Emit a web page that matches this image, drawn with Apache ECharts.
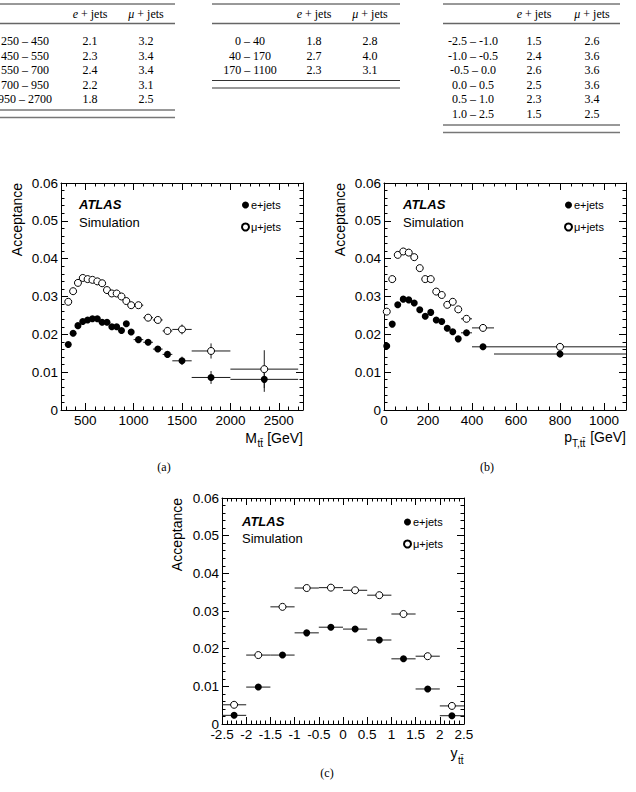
<!DOCTYPE html>
<html>
<head>
<meta charset="utf-8">
<script src="https://cdn.jsdelivr.net/npm/echarts@6/dist/echarts.min.js"></script>
<style>html,body{margin:0;padding:0;background:#fff}#chart{width:636px;height:792px}</style>
</head>
<body>
<div id="chart"></div>
<script>
// ===================== DATA =====================
// (a) acceptance vs M_tt
const mttCenters = [325,375,425,475,525,575,625,675,725,775,825,875,925,975,1050,1150,1250,1350,1500,1800,2350];
const mttLow     = [300,350,400,450,500,550,600,650,700,750,800,850,900,950,1000,1100,1200,1300,1400,1600,2000];
const mttHigh    = [350,400,450,500,550,600,650,700,750,800,850,900,950,1000,1100,1200,1300,1400,1600,2000,2700];
const mttEjets   = [0.0173,0.0203,0.0223,0.0234,0.0238,0.0241,0.0241,0.0232,0.0232,0.0220,0.0220,0.0210,0.0228,0.0206,0.0186,0.0179,0.0161,0.0147,0.0130,0.0086,0.0081];
const mttEjetsErr= [0.0004,0.0004,0.0004,0.0004,0.0004,0.0004,0.0004,0.0004,0.0004,0.0005,0.0005,0.0005,0.0005,0.0005,0.0005,0.0006,0.0007,0.0009,0.0011,0.0017,0.0033];
const mttMujets  = [0.0286,0.0314,0.0336,0.0349,0.0346,0.0344,0.0340,0.0335,0.0317,0.0308,0.0308,0.0300,0.0288,0.0277,0.0277,0.0244,0.0238,0.0209,0.0213,0.0156,0.0108];
const mttMujetsErr=[0.0005,0.0005,0.0005,0.0005,0.0005,0.0005,0.0005,0.0005,0.0005,0.0005,0.0005,0.0006,0.0006,0.0006,0.0006,0.0007,0.0008,0.0010,0.0013,0.0020,0.0050];

// (b) acceptance vs pT,tt
const ptCenters = [12.5,37.5,62.5,87.5,112.5,137.5,162.5,187.5,212.5,237.5,262.5,287.5,312.5,337.5,375,450,800];
const ptLow     = [0,25,50,75,100,125,150,175,200,225,250,275,300,325,350,400,500];
const ptHigh    = [25,50,75,100,125,150,175,200,225,250,275,300,325,350,400,500,1100];
const ptEjets   = [0.0169,0.0227,0.0278,0.0293,0.0291,0.0283,0.0265,0.0248,0.0258,0.0238,0.0234,0.0216,0.0207,0.0188,0.0204,0.0167,0.0148];
const ptEjetsErr= [0.0004,0.0004,0.0004,0.0004,0.0004,0.0004,0.0004,0.0004,0.0005,0.0005,0.0005,0.0005,0.0006,0.0008,0.0008,0.0008,0.0009];
const ptMujets  = [0.0260,0.0346,0.0410,0.0419,0.0416,0.0404,0.0375,0.0346,0.0346,0.0313,0.0304,0.0278,0.0286,0.0266,0.0241,0.0217,0.0167];
const ptMujetsErr=[0.0005,0.0005,0.0005,0.0005,0.0005,0.0005,0.0005,0.0005,0.0005,0.0006,0.0006,0.0006,0.0006,0.0008,0.0008,0.0008,0.0009];

// (c) acceptance vs y_tt
const yCenters = [-2.25,-1.75,-1.25,-0.75,-0.25,0.25,0.75,1.25,1.75,2.25];
const yLow     = [-2.5,-2.0,-1.5,-1.0,-0.5,0.0,0.5,1.0,1.5,2.0];
const yHigh    = [-2.0,-1.5,-1.0,-0.5,0.0,0.5,1.0,1.5,2.0,2.5];
const yEjets   = [0.0023,0.0098,0.0183,0.0242,0.0257,0.0252,0.0223,0.0173,0.0093,0.0022];
const yEjetsErr= [0.0003,0.0004,0.0004,0.0004,0.0004,0.0004,0.0004,0.0004,0.0004,0.0003];
const yMujets  = [0.0051,0.0183,0.0311,0.0361,0.0362,0.0355,0.0342,0.0292,0.0180,0.0048];
const yMujetsErr=[0.0003,0.0004,0.0004,0.0004,0.0004,0.0004,0.0004,0.0004,0.0004,0.0003];

// tick labels
const accTicks = [0,0.01,0.02,0.03,0.04,0.05,0.06];
const mttTicks = [500,1000,1500,2000,2500];
const ptTicks  = [0,200,400,600,800,1000];
const yTicks   = [-2.5,-2,-1.5,-1,-0.5,0,0.5,1,1.5,2,2.5];

// tables (acceptance in %)
const tab1Bins = ['250 – 450','450 – 550','550 – 700','700 – 950','950 – 2700'];
const tab1E    = ['2.1','2.3','2.4','2.2','1.8'];
const tab1Mu   = ['3.2','3.4','3.4','3.1','2.5'];
const tab2Bins = ['0 – 40','40 – 170','170 – 1100'];
const tab2E    = ['1.8','2.7','2.3'];
const tab2Mu   = ['2.8','4.0','3.1'];
const tab3Bins = ['-2.5 – -1.0','-1.0 – -0.5','-0.5 – 0.0','0.0 – 0.5','0.5 – 1.0','1.0 – 2.5'];
const tab3E    = ['1.5','2.4','2.6','2.5','2.3','1.5'];
const tab3Mu   = ['2.6','3.6','3.6','3.6','3.4','2.5'];

const E_NAME = 'e+jets', MU_NAME = 'μ+jets';

// ===================== STYLE / LAYOUT =====================
const SANS = '"Liberation Sans", Arial, Helvetica, sans-serif';
const SERIF = '"Liberation Serif", "Times New Roman", serif';
const TICK_FONT = 13.5;

function steps(a, b, s, dec) {
  const out = [];
  const n = Math.round((b - a) / s);
  for (let i = 0; i <= n; i++) out.push(+(a + i * s).toFixed(dec || 6));
  return out;
}

const panels = [
  { grid: {left: 61, top: 183, width: 242, height: 227}, xMin: 250, xMax: 2750,
    xMajor: mttTicks, xMinor: steps(300, 2700, 100), xFmt: v => String(v),
    c: mttCenters, lo: mttLow, hi: mttHigh, e: mttEjets, eErr: mttEjetsErr, mu: mttMujets, muErr: mttMujetsErr },
  { grid: {left: 384, top: 183, width: 242, height: 227}, xMin: 0, xMax: 1100,
    xMajor: ptTicks, xMinor: steps(0, 1100, 50), xFmt: v => String(v),
    c: ptCenters, lo: ptLow, hi: ptHigh, e: ptEjets, eErr: ptEjetsErr, mu: ptMujets, muErr: ptMujetsErr },
  { grid: {left: 222, top: 498, width: 242, height: 226}, xMin: -2.5, xMax: 2.5,
    xMajor: yTicks, xMinor: steps(-2.5, 2.5, 0.1, 3), xFmt: v => String(v),
    c: yCenters, lo: yLow, hi: yHigh, e: yEjets, eErr: yEjetsErr, mu: yMujets, muErr: yMujetsErr }
];
const accMinor = steps(0, 0.06, 0.002, 4);

const grids = [], xAxes = [], yAxes = [], series = [], legends = [];

function mkAxis(gridIndex, position, min, max, values, len, labels, fmt, line) {
  return {
    gridIndex, type: 'value', position, min, max,
    axisLine: {show: line, onZero: false, lineStyle: {color: '#000', width: 1}},
    axisTick: {show: true, inside: true, length: len, customValues: values, lineStyle: {color: '#000', width: 1}},
    axisLabel: labels ? {show: true, customValues: values, formatter: fmt, color: '#000',
      fontFamily: SANS, fontSize: TICK_FONT, margin: 3} : {show: false},
    splitLine: {show: false}, minorTick: {show: false}
  };
}

function errRender(params, api) {
  const x = api.value(0), y = api.value(1);
  const a = api.coord([api.value(2), y]), b = api.coord([api.value(3), y]);
  const c = api.coord([x, api.value(4)]), d = api.coord([x, api.value(5)]);
  const st = {stroke: '#1a1a1a', lineWidth: 1};
  return {type: 'group', children: [
    {type: 'line', shape: {x1: a[0], y1: a[1], x2: b[0], y2: b[1]}, style: st},
    {type: 'line', shape: {x1: c[0], y1: c[1], x2: d[0], y2: d[1]}, style: st}
  ]};
}

panels.forEach((p, i) => {
  grids.push(p.grid);
  const yFmt = v => (v === 0 ? '0' : v.toFixed(2));
  xAxes.push(mkAxis(i, 'bottom', p.xMin, p.xMax, p.xMajor, 7, true, p.xFmt, true));
  xAxes.push(mkAxis(i, 'bottom', p.xMin, p.xMax, p.xMinor, 3.5, false, null, false));
  xAxes.push(mkAxis(i, 'top', p.xMin, p.xMax, p.xMajor, 7, false, null, true));
  xAxes.push(mkAxis(i, 'top', p.xMin, p.xMax, p.xMinor, 3.5, false, null, false));
  yAxes.push(mkAxis(i, 'left', 0, 0.06, accTicks, 7, true, yFmt, true));
  yAxes.push(mkAxis(i, 'left', 0, 0.06, accMinor, 3.5, false, null, false));
  yAxes.push(mkAxis(i, 'right', 0, 0.06, accTicks, 7, false, null, true));
  yAxes.push(mkAxis(i, 'right', 0, 0.06, accMinor, 3.5, false, null, false));
  const xi = i * 4, yi = i * 4;
  const errData = (vals, errs) => p.c.map((cx, k) => [cx, vals[k], p.lo[k], p.hi[k], vals[k] - errs[k], vals[k] + errs[k]]);
  series.push({type: 'custom', name: 'errE' + i, xAxisIndex: xi, yAxisIndex: yi, renderItem: errRender,
    data: errData(p.e, p.eErr), z: 2, silent: true});
  series.push({type: 'custom', name: 'errMu' + i, xAxisIndex: xi, yAxisIndex: yi, renderItem: errRender,
    data: errData(p.mu, p.muErr), z: 2, silent: true});
  series.push({type: 'scatter', name: E_NAME, xAxisIndex: xi, yAxisIndex: yi, symbol: 'circle', symbolSize: 7,
    itemStyle: {color: '#000', opacity: 1}, data: p.c.map((cx, k) => [cx, p.e[k]]), z: 3});
  series.push({type: 'scatter', name: MU_NAME, xAxisIndex: xi, yAxisIndex: yi, symbol: 'circle', symbolSize: 7,
    itemStyle: {color: '#fff', borderColor: '#000', borderWidth: 1, opacity: 1}, data: p.c.map((cx, k) => [cx, p.mu[k]]), z: 3});
});

const legendPos = [[241, 198], [564, 198], [403, 515]];
legendPos.forEach(([l, t]) => legends.push({
  left: l, top: t, orient: 'vertical', padding: 0, itemGap: 8, itemWidth: 7, itemHeight: 7,
  data: [E_NAME, MU_NAME], selectedMode: false,
  textStyle: {fontFamily: SANS, fontSize: 11, color: '#000', lineHeight: 14, padding: [0, 0, 0, -3]}
}));

// ---------- graphic: texts & tables ----------
const G = [];
function txt(x, y, text, font, align, vAlign, extra) {
  G.push(Object.assign({type: 'text', x, y, silent: true,
    style: {text, font, fill: '#000', textAlign: align || 'left', textVerticalAlign: vAlign || 'middle',
      align: align || 'left', verticalAlign: vAlign || 'middle'}}, extra || {}));
}
function rule(x1, x2, y, w, color) {
  G.push({type: 'line', silent: true, shape: {x1, y1: y, x2, y2: y}, style: {stroke: color, lineWidth: w}});
}
const ATLAS_FONT = 'italic bold 13px ' + SANS, SIM_FONT = '13px ' + SANS;
const TITLE_FONT = '14px ' + SANS, SUB_FONT = '10px ' + SANS;
// ATLAS labels
[[79, 204, 222], [403, 204, 222], [242, 521, 538.5]].forEach(([x, y1, y2]) => {
  txt(x, y1, 'ATLAS', ATLAS_FONT);
  txt(x, y2, 'Simulation', SIM_FONT);
});
// y-axis titles
[[17, 183], [340, 183], [177, 498]].forEach(([x, y]) => {
  txt(x, y, 'Acceptance', TITLE_FONT, 'right', 'middle', {rotation: Math.PI / 2});
});
// x-axis titles
txt(303, 438, '[GeV]', TITLE_FONT, 'right');
txt(257.5, 443.5, 't\u0074\u0304', SUB_FONT, 'left');
txt(257, 438, 'M', TITLE_FONT, 'right');
txt(626, 437, '[GeV]', TITLE_FONT, 'right');
txt(572, 443, 'T,t\u0074\u0304', SUB_FONT, 'left');
txt(572, 437, 'p', TITLE_FONT, 'right');
txt(457.5, 753, 'y', TITLE_FONT, 'right');
txt(458, 760, 't\u0074\u0304', SUB_FONT, 'left');
// captions
txt(164, 467, '(a)', '12px ' + SERIF, 'center');
txt(487, 467, '(b)', '12px ' + SERIF, 'center');
txt(327, 773, '(c)', '12px ' + SERIF, 'center');

// tables
const TAB_FONT = '12px ' + SERIF;
function header(x, y, sym) {
  G.push({type: 'text', x, y, silent: true, style: {
    text: '{i|' + sym + '}{n| + jets}', fill: '#000', textAlign: 'center', textVerticalAlign: 'middle',
    align: 'center', verticalAlign: 'middle', font: TAB_FONT,
    rich: {i: {fontStyle: 'italic', fontFamily: SERIF, fontSize: 12, fill: '#000'},
           n: {fontFamily: SERIF, fontSize: 12, fill: '#000'}}}});
}
function table(x1, x2, cols, bins, ev, mv, rowTop, bot) {
  rule(x1, x2, 4, 1, '#333');
  header(cols[1], 14, 'e');
  header(cols[2], 14, 'μ');
  rule(x1, x2, 23.5, 1.6, '#666');
  bins.forEach((b, k) => {
    const y = rowTop + k * 14.6;
    txt(cols[0], y, b, TAB_FONT, 'center');
    txt(cols[1], y, ev[k], TAB_FONT, 'center');
    txt(cols[2], y, mv[k], TAB_FONT, 'center');
  });
  rule(x1, x2, bot, 1, '#333');
  rule(x1, x2, bot + 7.5, 1.6, '#777');
}
table(0, 175, [25, 90, 146], tab1Bins, tab1E, tab1Mu, 41, 110);
table(212, 400, [250, 314, 370], tab2Bins, tab2E, tab2Mu, 41, 80.5);
table(443, 620, [473, 534, 592], tab3Bins, tab3E, tab3Mu, 41, 125);

const chart = echarts.init(document.getElementById('chart'), null, {renderer: 'svg', width: 636, height: 792});
chart.setOption({
  animation: false,
  backgroundColor: '#fff',
  grid: grids,
  xAxis: xAxes,
  yAxis: yAxes,
  legend: legends,
  series,
  graphic: {elements: G}
});
</script>
</body>
</html>
